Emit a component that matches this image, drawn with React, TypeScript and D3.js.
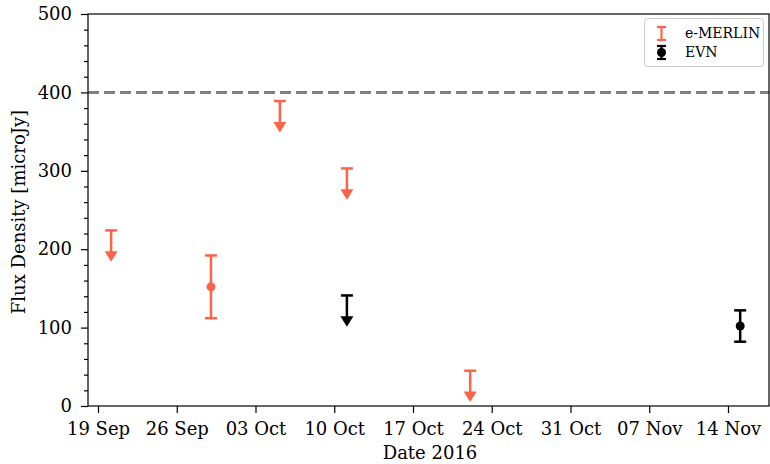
import React, { useEffect, useRef } from "react";
import * as d3 from "d3";

const W = 770;
const H = 464;
const M = { left: 88, right: 769, top: 14, bottom: 406 };

// e-MERLIN upper limits (value at cap, arrow points down)
const merlinLimitDates = ["2016-09-20T04:00", "2016-10-05T04:00", "2016-10-11T03:00", "2016-10-22T02:00"];
const merlinLimitValues = [224, 389, 303, 45];
// e-MERLIN detection
const merlinDetDates = ["2016-09-29T01:00"];
const merlinDetValues = [152];
const merlinDetErrors = [40];
// EVN upper limit
const evnLimitDates = ["2016-10-11T03:00"];
const evnLimitValues = [141];
// EVN detection
const evnDetDates = ["2016-11-15T02:00"];
const evnDetValues = [102];
const evnDetErrors = [20];

const limitLength = 40;
const thresholdValue = 400;
const xTickDates = ["2016-09-19", "2016-09-26", "2016-10-03", "2016-10-10", "2016-10-17", "2016-10-24", "2016-10-31", "2016-11-07", "2016-11-14"];
const yTicks = [0, 100, 200, 300, 400, 500];

const MERLIN = "#ff6347";
const EVN = "#000000";
const FONT = "'DejaVu Serif', serif";
const FS = 18;

const parse = (s: string) => new Date(s);

export default function App() {
  const ref = useRef<SVGSVGElement>(null);
  useEffect(() => {
    const svg = d3.select(ref.current);
    svg.selectAll("*").remove();

    const x = d3
      .scaleTime()
      .domain([new Date("2016-09-18T02:40"), new Date("2016-11-17T15:30")])
      .range([M.left, M.right]);
    const y = d3.scaleLinear().domain([0, 500]).range([M.bottom, M.top]);

    // threshold line
    svg
      .append("line")
      .attr("x1", M.left)
      .attr("x2", M.right)
      .attr("y1", y(thresholdValue))
      .attr("y2", y(thresholdValue))
      .attr("stroke", "#808080")
      .attr("stroke-width", 3)
      .attr("stroke-dasharray", "11,5");

    const g = svg.append("g");
    const cap = 6;
    const lw = 2.5;

    const drawLimit = (dates: string[], vals: number[], color: string) => {
      dates.forEach((d, i) => {
        const cx = x(parse(d));
        const top = y(vals[i]);
        const tip = y(vals[i] - limitLength);
        g.append("line").attr("x1", cx).attr("x2", cx).attr("y1", top).attr("y2", tip - 6)
          .attr("stroke", color).attr("stroke-width", lw);
        g.append("line").attr("x1", cx - cap).attr("x2", cx + cap).attr("y1", top).attr("y2", top)
          .attr("stroke", color).attr("stroke-width", lw);
        g.append("path")
          .attr("d", `M${cx - 6.5},${tip - 10.5}L${cx + 6.5},${tip - 10.5}L${cx},${tip}Z`)
          .attr("fill", color);
      });
    };
    const drawDet = (dates: string[], vals: number[], errs: number[], color: string) => {
      dates.forEach((d, i) => {
        const cx = x(parse(d));
        const t = y(vals[i] + errs[i]);
        const b = y(vals[i] - errs[i]);
        g.append("line").attr("x1", cx).attr("x2", cx).attr("y1", t).attr("y2", b)
          .attr("stroke", color).attr("stroke-width", lw);
        [t, b].forEach((yy) =>
          g.append("line").attr("x1", cx - cap).attr("x2", cx + cap).attr("y1", yy).attr("y2", yy)
            .attr("stroke", color).attr("stroke-width", lw)
        );
        g.append("circle").attr("cx", cx).attr("cy", y(vals[i])).attr("r", 4.5).attr("fill", color);
      });
    };
    drawLimit(merlinLimitDates, merlinLimitValues, MERLIN);
    drawDet(merlinDetDates, merlinDetValues, merlinDetErrors, MERLIN);
    drawLimit(evnLimitDates, evnLimitValues, EVN);
    drawDet(evnDetDates, evnDetValues, evnDetErrors, EVN);

    // axes
    const xAxis = d3
      .axisBottom(x)
      .tickValues(xTickDates.map(parse))
      .tickFormat((d) => d3.timeFormat("%d %b")(d as Date))
      .tickSize(7)
      .tickPadding(9);
    const xa = svg.append("g").attr("transform", `translate(0,${M.bottom})`).call(xAxis);
    const yAxis = d3.axisLeft(y).tickValues(yTicks).tickSize(7).tickPadding(9);
    const ya = svg.append("g").attr("transform", `translate(${M.left},0)`).call(yAxis);
    const yMinor = d3.range(0, 501, 20).filter((v) => v % 100 !== 0);
    svg.append("g").attr("transform", `translate(${M.left},0)`)
      .call(d3.axisLeft(y).tickValues(yMinor).tickSize(4).tickFormat(() => ""))
      .call((s) => s.select(".domain").remove());
    [xa, ya].forEach((a) => {
      a.select(".domain").remove();
      a.selectAll("text").attr("font-family", FONT).attr("font-size", FS).attr("fill", "#000");
    });
    svg.selectAll(".tick line").attr("stroke", "#000").attr("stroke-width", 1.2);

    // frame
    svg.append("rect")
      .attr("x", M.left).attr("y", M.top)
      .attr("width", M.right - M.left).attr("height", M.bottom - M.top)
      .attr("fill", "none").attr("stroke", "#000").attr("stroke-width", 1.2);

    // labels
    svg.append("text").attr("x", 430).attr("y", 459)
      .attr("text-anchor", "middle").attr("font-family", FONT).attr("font-size", FS)
      .text("Date 2016");
    svg.append("text")
      .attr("transform", `translate(25,212) rotate(-90)`)
      .attr("text-anchor", "middle").attr("font-family", FONT).attr("font-size", FS)
      .text("Flux Density [microJy]");

    // legend
    const lg = svg.append("g");
    lg.append("rect").attr("x", 644.5).attr("y", 18.5).attr("width", 119).attr("height", 48)
      .attr("rx", 3).attr("fill", "white").attr("fill-opacity", 0.8)
      .attr("stroke", "#cccccc").attr("stroke-width", 1);
    const items = [
      { label: "e-MERLIN", color: MERLIN, dot: false, yy: 33.5 },
      { label: "EVN", color: EVN, dot: true, yy: 52.5 },
    ];
    items.forEach((it) => {
      const cx = 661.5;
      lg.append("line").attr("x1", cx).attr("x2", cx).attr("y1", it.yy - 6.5).attr("y2", it.yy + 6.5)
        .attr("stroke", it.color).attr("stroke-width", 2.2);
      [it.yy - 6.5, it.yy + 6.5].forEach((yy) =>
        lg.append("line").attr("x1", cx - 4.5).attr("x2", cx + 4.5).attr("y1", yy).attr("y2", yy)
          .attr("stroke", it.color).attr("stroke-width", 2.2)
      );
      if (it.dot) lg.append("circle").attr("cx", cx).attr("cy", it.yy).attr("r", 4.5).attr("fill", it.color);
      lg.append("text").attr("x", 685).attr("y", it.yy + 4.5).attr("font-family", FONT)
        .attr("font-size", 14).text(it.label);
    });
  }, []);
  return (
    <svg ref={ref} width={W} height={H} style={{ position: "absolute", left: 0, top: 0, background: "white" }} />
  );
}
